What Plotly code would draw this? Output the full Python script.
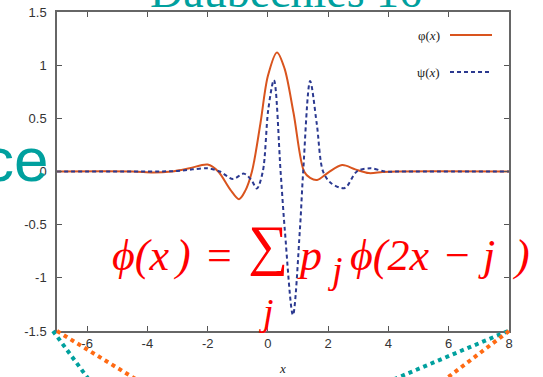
import plotly.graph_objects as go

# ---- data ----
phi_x = [-7, -4.5, -3.8, -3.2, -2.6, -2.0, -1.65, -1.25, -0.96, -0.75, -0.53, -0.25, 0.0, 0.3,
         0.55, 0.85, 1.2, 1.4, 1.63, 2.0, 2.46, 2.9, 3.35, 3.8, 4.3, 8]
phi_y = [0, 0, -0.01, 0.0, 0.03, 0.065, 0.0, -0.17, -0.26, -0.18, 0.0, 0.45, 0.9, 1.12,
         0.97, 0.55, 0.0, -0.06, -0.08, -0.01, 0.06, 0.02, -0.015, -0.005, 0, 0]

psi_x = [-7, -4.0, -3.0, -2.5, -2.0, -1.6, -1.16, -0.8, -0.55, -0.37, -0.17, 0.01, 0.2, 0.42,
         0.56, 0.83, 1.06, 1.17, 1.4, 1.62, 1.83, 2.1, 2.55, 2.95, 3.4, 3.9, 4.4, 8]
psi_y = [0, 0, 0.005, 0.02, 0.03, 0.0, -0.07, -0.02, -0.08, -0.16, 0.0, 0.58, 0.86, 0.0,
         -0.55, -1.35, -0.55, 0.0, 0.85, 0.45, 0.0, -0.11, -0.155, 0.0, 0.03, 0.0, 0, 0]

x_ticks = [-6, -4, -2, 0, 2, 4, 6, 8]
x_ticklabels = ["-6", "-4", "-2", "0", "2", "4", "6", "8"]
y_ticks = [-1.5, -1, -0.5, 0, 0.5, 1, 1.5]
y_ticklabels = ["-1.5", "-1", "-0.5", "0", "0.5", "1", "1.5"]

legend_labels = ["\u03c6(<i>x</i>)", "\u03c8(<i>x</i>)"]

PHI_COLOR = "#D9541E"
PSI_COLOR = "#2B3990"
TEAL = "#00A09E"
ORANGE = "#FF6A13"
RED = "#FF0000"

W, H = 543, 377
L, R, T, B = 57, 509, 12, 331


def px(p):
    return (p - L) / (R - L)


def py(p):
    return (B - p) / (B - T)


fig = go.Figure()
fig.add_trace(go.Scatter(x=phi_x, y=phi_y, mode="lines",
                         line=dict(color=PHI_COLOR, width=2, shape="spline", smoothing=0.9),
                         showlegend=False))
fig.add_trace(go.Scatter(x=psi_x, y=psi_y, mode="lines",
                         line=dict(color=PSI_COLOR, width=2, dash="4px,3px", shape="spline", smoothing=0.9),
                         showlegend=False))

shapes = []
# legend samples
shapes.append(dict(type="line", xref="paper", yref="paper", x0=px(450), x1=px(492), y0=py(35), y1=py(35),
                   line=dict(color=PHI_COLOR, width=2)))
shapes.append(dict(type="line", xref="paper", yref="paper", x0=px(450), x1=px(492), y0=py(72), y1=py(72),
                   line=dict(color=PSI_COLOR, width=2, dash="4px,3px")))
# decorative dotted lines from the slide
for (x0, y0, x1, y1, c) in [(53, 331, 104, 400, TEAL), (57, 331, 170, 400, ORANGE),
                            (508, 331, 345, 400, TEAL), (509, 331, 418, 400, ORANGE)]:
    shapes.append(dict(type="line", xref="paper", yref="paper", x0=px(x0), x1=px(x1), y0=py(y0), y1=py(y1),
                       line=dict(color=c, width=4, dash="dot")))

ann = []
# legend text
for lab, yy in zip(legend_labels, [35, 72]):
    ann.append(dict(text=lab, xref="paper", yref="paper", x=px(442), y=py(yy), xanchor="right", yanchor="middle",
                    showarrow=False, font=dict(family="Liberation Serif", size=13, color="#222")))
# x axis label
ann.append(dict(text="<i>x</i>", xref="paper", yref="paper", x=px(282), y=py(368), xanchor="center",
                yanchor="middle", showarrow=False, font=dict(family="Liberation Serif", size=13, color="#222")))
# title (cut off at top)
ann.append(dict(text="Daubechies 16", xref="paper", yref="paper", x=px(286), y=py(-9), xanchor="center",
                yanchor="middle", showarrow=False, font=dict(family="Liberation Serif", size=46, color=TEAL)))
# partial slide text on the left
ann.append(dict(text="ce", xref="paper", yref="paper", x=px(50), y=py(159), xanchor="right",
                yanchor="middle", showarrow=False, font=dict(family="Liberation Sans", size=62, color=TEAL)))
# formula
fs = 44
ff = "Liberation Serif"
def fann(text, x, ymid, size=fs, anchor="left", italic=True):
    t = "<i>" + text + "</i>" if italic else text
    ann.append(dict(text=t, xref="paper", yref="paper", x=px(x), y=py(ymid), xanchor=anchor, yanchor="middle",
                    showarrow=False, font=dict(family=ff, size=size, color=RED)))

fann("\u03d5(x", 110, 255)
fann(")", 171, 255)
fann("=", 219, 255, anchor="center", italic=False)
fann("\u2211", 268, 245, size=56, anchor="center", italic=False)
fann("j", 266, 312, size=38, anchor="center")
fann("p", 295, 255)
fann("j", 325, 270, size=38)
fann("\u03d5(2x", 348, 255)
fann("\u2212", 457, 255, anchor="center", italic=False)
fann("j", 476, 255)
fann(")", 510, 255)

fig.update_layout(
    width=W, height=H,
    margin=dict(l=L, r=W - R, t=T, b=H - B, autoexpand=False),
    paper_bgcolor="white", plot_bgcolor="white",
    showlegend=False,
    shapes=shapes, annotations=ann,
    xaxis=dict(range=[-7, 8], tickvals=x_ticks, ticktext=x_ticklabels, ticks="inside", ticklen=5,
               tickcolor="#555", showline=True, linecolor="#666", linewidth=1.5, mirror="ticks",
               showgrid=False, zeroline=False, automargin=False,
               tickfont=dict(family="Liberation Sans", size=13, color="#333")),
    yaxis=dict(range=[-1.5, 1.5], tickvals=y_ticks, ticktext=y_ticklabels, ticks="inside", ticklen=5,
               tickcolor="#555", showline=True, linecolor="#666", linewidth=1.5, mirror="ticks",
               showgrid=False, zeroline=False, ticklabelstandoff=6, automargin=False,
               tickfont=dict(family="Liberation Sans", size=13, color="#333")),
)

fig.write_html("out.html", config={"displayModeBar": False},
               post_script="document.body.style.margin='0px';")
